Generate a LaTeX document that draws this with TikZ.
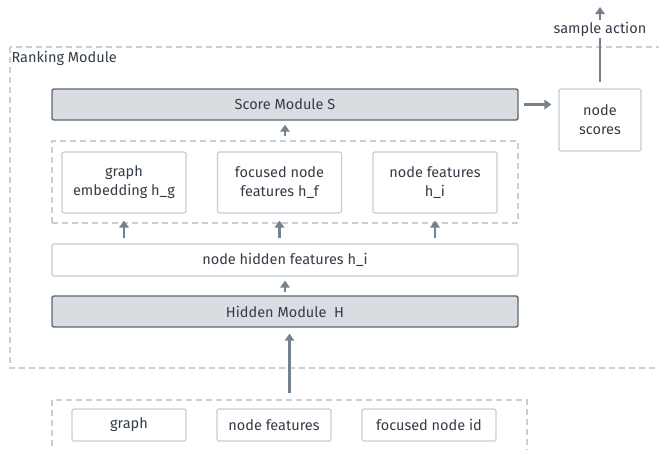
\documentclass[tikz,border=0pt]{standalone}
\usepackage{fontspec}
\setmainfont{Fira Sans}
\usetikzlibrary{arrows.meta}
\definecolor{txt}{HTML}{333D48}
\definecolor{arrc}{HTML}{75818D}
\definecolor{lightb}{HTML}{C5CDD6}
\definecolor{darkb}{HTML}{5C6670}
\definecolor{grayfill}{HTML}{D9DCE0}
\definecolor{dashc}{HTML}{C8CFD7}
\tikzset{
  every node/.style={font=\fontsize{14.5}{19}\selectfont, text=txt},
  lbox/.style={draw=lightb, line width=1.2pt, fill=white, rounded corners=2pt, align=center, inner sep=0pt},
  gbox/.style={draw=darkb, line width=1.4pt, fill=grayfill, rounded corners=2pt, align=center, inner sep=0pt},
  dbox/.style={draw=dashc, line width=1.2pt, dash pattern=on 6pt off 4pt},
  arr/.style={draw=arrc, line width=2.8pt, -{Triangle[width=9.5pt,length=7pt]}, arrc}
}
\begin{document}
\begin{tikzpicture}[x=1pt,y=-1pt]
\useasboundingbox (0,0) rectangle (659,450);
\clip (0,0) rectangle (659,450);
% outer dashed frames
\draw[dbox] (10,47) rectangle (680,368);
\draw[dbox] (52,400) rectangle (527,470);
\node[anchor=west] (rm) at (8,58) {Ranking Module};
% inner dashed group
\node[dbox, minimum width=466pt, minimum height=82pt, inner sep=0pt] (inner) at (285,182) {};
% main boxes
\node[gbox, minimum width=466pt, minimum height=31pt] (score) at (285,104.5) {Score Module S};
\node[lbox, minimum width=82pt, minimum height=62pt] (ns) at (600,120) {node\\scores};
\node[lbox, minimum width=124pt, minimum height=61pt] (ge) at (124,182.5) {graph\\embedding h\_g};
\node[lbox, minimum width=124pt, minimum height=61pt] (ff) at (279.5,182.5) {focused node\\features h\_f};
\node[lbox, minimum width=124pt, minimum height=61pt] (nf) at (435,182.5) {node features\\h\_i};
\node[lbox, minimum width=466pt, minimum height=32pt] (hf) at (285,260) {node hidden features h\_i};
\node[gbox, minimum width=466pt, minimum height=31pt] (hm) at (285,311.5) {Hidden Module\ \ H};
% inputs
\node[lbox, minimum width=114pt, minimum height=32pt] (g) at (129,425) {graph};
\node[lbox, minimum width=114pt, minimum height=32pt] (nfi) at (274,425) {node features};
\node[lbox, minimum width=134pt, minimum height=32pt] (fid) at (429,425) {focused node id};
\coordinate (inp) at (289.5,400);
\coordinate (top) at (600,7);
% arrows
\draw[arr, shorten <=7pt, shorten >=6pt] (inp) -- (inp |- hm.south);
\draw[arr, shorten <=3pt, shorten >=4pt] (hm.north) -- (hf.south);
\draw[arr, shorten <=5pt, shorten >=7pt] (ge.south |- hf.north) -- (ge.south);
\draw[arr, shorten <=5pt, shorten >=7pt] (ff.south |- hf.north) -- (ff.south);
\draw[arr, shorten <=5pt, shorten >=7pt] (nf.south |- hf.north) -- (nf.south);
\draw[arr, shorten <=4pt, shorten >=4pt] (inner.north) -- (score.south);
\draw[arr, shorten <=5pt, shorten >=7pt] (score.east) -- (score.east -| ns.west);
\draw[arr, shorten <=6pt] (ns.north) -- (top);
\node[fill=white, inner sep=2pt] (sa) at (600,29) {sample action};
\end{tikzpicture}
\end{document}
